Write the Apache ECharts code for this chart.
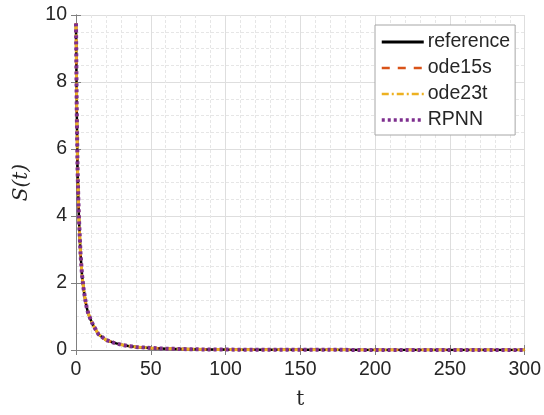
<!DOCTYPE html>
<html>
<head>
<meta charset="utf-8">
<script src="https://cdn.jsdelivr.net/npm/echarts@6/dist/echarts.min.js"></script>
<style>
  html, body { margin: 0; padding: 0; background: #fff; }
  #chart { width: 544px; height: 415px; }
</style>
</head>
<body>
<div id="chart"></div>
<script>
"use strict";

// time points and S(t) (all four solvers overlap)
const tValues = [0, 0.5, 1, 1.5, 2, 3, 4, 5, 6, 7, 8, 9, 10, 12, 15, 20, 25, 30, 35, 40, 50, 60, 80, 100, 150, 200, 250, 300];
const sValues = [9.75, 7.2, 5.5, 4.6, 3.9, 2.9, 2.25, 1.85, 1.55, 1.3, 1.12, 1.0, 0.88, 0.7, 0.47, 0.3, 0.22, 0.16, 0.12, 0.09, 0.06, 0.04, 0.02, 0.012, 0.005, 0.003, 0.002, 0.001];
const seriesNames = ['reference', 'ode15s', 'ode23t', 'RPNN'];
const xTicks = [0, 50, 100, 150, 200, 250, 300];
const yTicks = [0, 2, 4, 6, 8, 10];

let chart = echarts.init(document.getElementById('chart'));

let points = tValues.map(function (t, i) { return [t, sValues[i]]; });

let styles = {
    reference: { color: '#000000', type: 'solid', width: 2.5 },
    ode15s: { color: '#D95319', type: [9, 7], width: 2.5 },
    ode23t: { color: '#EDB120', type: [8, 3, 2, 3], width: 3 },
    RPNN: { color: '#7E2F8E', type: [3, 3], width: 4 }
};
// legend icons are drawn a bit differently from the curves
let legendStyles = {
    reference: { color: '#000000', type: 'solid', width: 3 },
    ode15s: { color: '#D95319', type: [8, 8], width: 2.5 },
    ode23t: { color: '#EDB120', type: [7, 3, 2, 3], width: 2.5 },
    RPNN: { color: '#7E2F8E', type: [3, 3], width: 3.5 }
};

let textColor = '#262626';
let boxColor = '#808080';
let labelFont = 'Liberation Sans, Arial, sans-serif';

let baseAxis = function (min, max, interval, minorSplit) {
    return {
        type: 'value',
        min: min,
        max: max,
        interval: interval,
        axisLine: { show: true, lineStyle: { color: boxColor, width: 1 } },
        axisTick: { show: true, inside: true, length: 5, lineStyle: { color: boxColor } },
        axisLabel: { color: textColor, fontSize: 19.5, fontFamily: labelFont },
        splitLine: { show: true, lineStyle: { color: '#dedede', width: 1 } },
        minorTick: { show: false, splitNumber: minorSplit },
        minorSplitLine: { show: true, lineStyle: { color: '#e6e6e6', width: 1, type: [3, 2] } }
    };
};

let xAxisMain = baseAxis(xTicks[0], xTicks[xTicks.length - 1], 50, 5);
xAxisMain.name = 't';
xAxisMain.nameLocation = 'middle';
xAxisMain.nameGap = 40;
xAxisMain.nameTextStyle = { color: textColor, fontSize: 20, fontFamily: 'DejaVu Serif, serif' };
xAxisMain.axisLabel.margin = 10;

let yAxisMain = baseAxis(yTicks[0], yTicks[yTicks.length - 1], 2, 4);
yAxisMain.name = 'S(t)';
yAxisMain.nameLocation = 'middle';
yAxisMain.nameGap = 44;
yAxisMain.nameTextStyle = { color: textColor, fontSize: 20, fontStyle: 'italic', fontFamily: 'DejaVu Serif, serif' };
yAxisMain.axisLabel.margin = 9;

let boxAxis = function (min, max, interval, pos) {
    return {
        type: 'value',
        position: pos,
        min: min,
        max: max,
        interval: interval,
        axisLine: { show: true, lineStyle: { color: boxColor, width: 1 } },
        axisTick: { show: true, inside: true, length: 5, lineStyle: { color: boxColor } },
        axisLabel: { show: false },
        splitLine: { show: false }
    };
};

let option = {
    animation: false,
    backgroundColor: '#ffffff',
    grid: { left: 76, top: 15, right: 19, bottom: 64 },
    xAxis: [xAxisMain, boxAxis(0, 300, 50, 'top')],
    yAxis: [yAxisMain, boxAxis(0, 10, 2, 'right')],
    legend: {
        orient: 'vertical',
        left: 375,
        top: 25,
        padding: [7, 5, 5, 5],
        itemGap: 6,
        itemWidth: 42,
        itemHeight: 19,
        backgroundColor: '#ffffff',
        borderColor: '#a6a6a6',
        borderWidth: 1,
        borderRadius: 0,
        itemStyle: { opacity: 0 },
        textStyle: { color: textColor, fontSize: 19.5, fontFamily: labelFont, padding: [0, 0, 0, -1] },
        data: seriesNames.map(function (name) {
            return { name: name, lineStyle: legendStyles[name] };
        })
    },
    series: seriesNames.map(function (name) {
        return {
            name: name,
            type: 'line',
            data: points,
            symbol: 'none',
            smooth: false,
            lineStyle: styles[name],
            itemStyle: { color: styles[name].color }
        };
    })
};

chart.setOption(option);

window.addEventListener('resize', function () {
    chart.resize();
});
</script>
</body>
</html>
